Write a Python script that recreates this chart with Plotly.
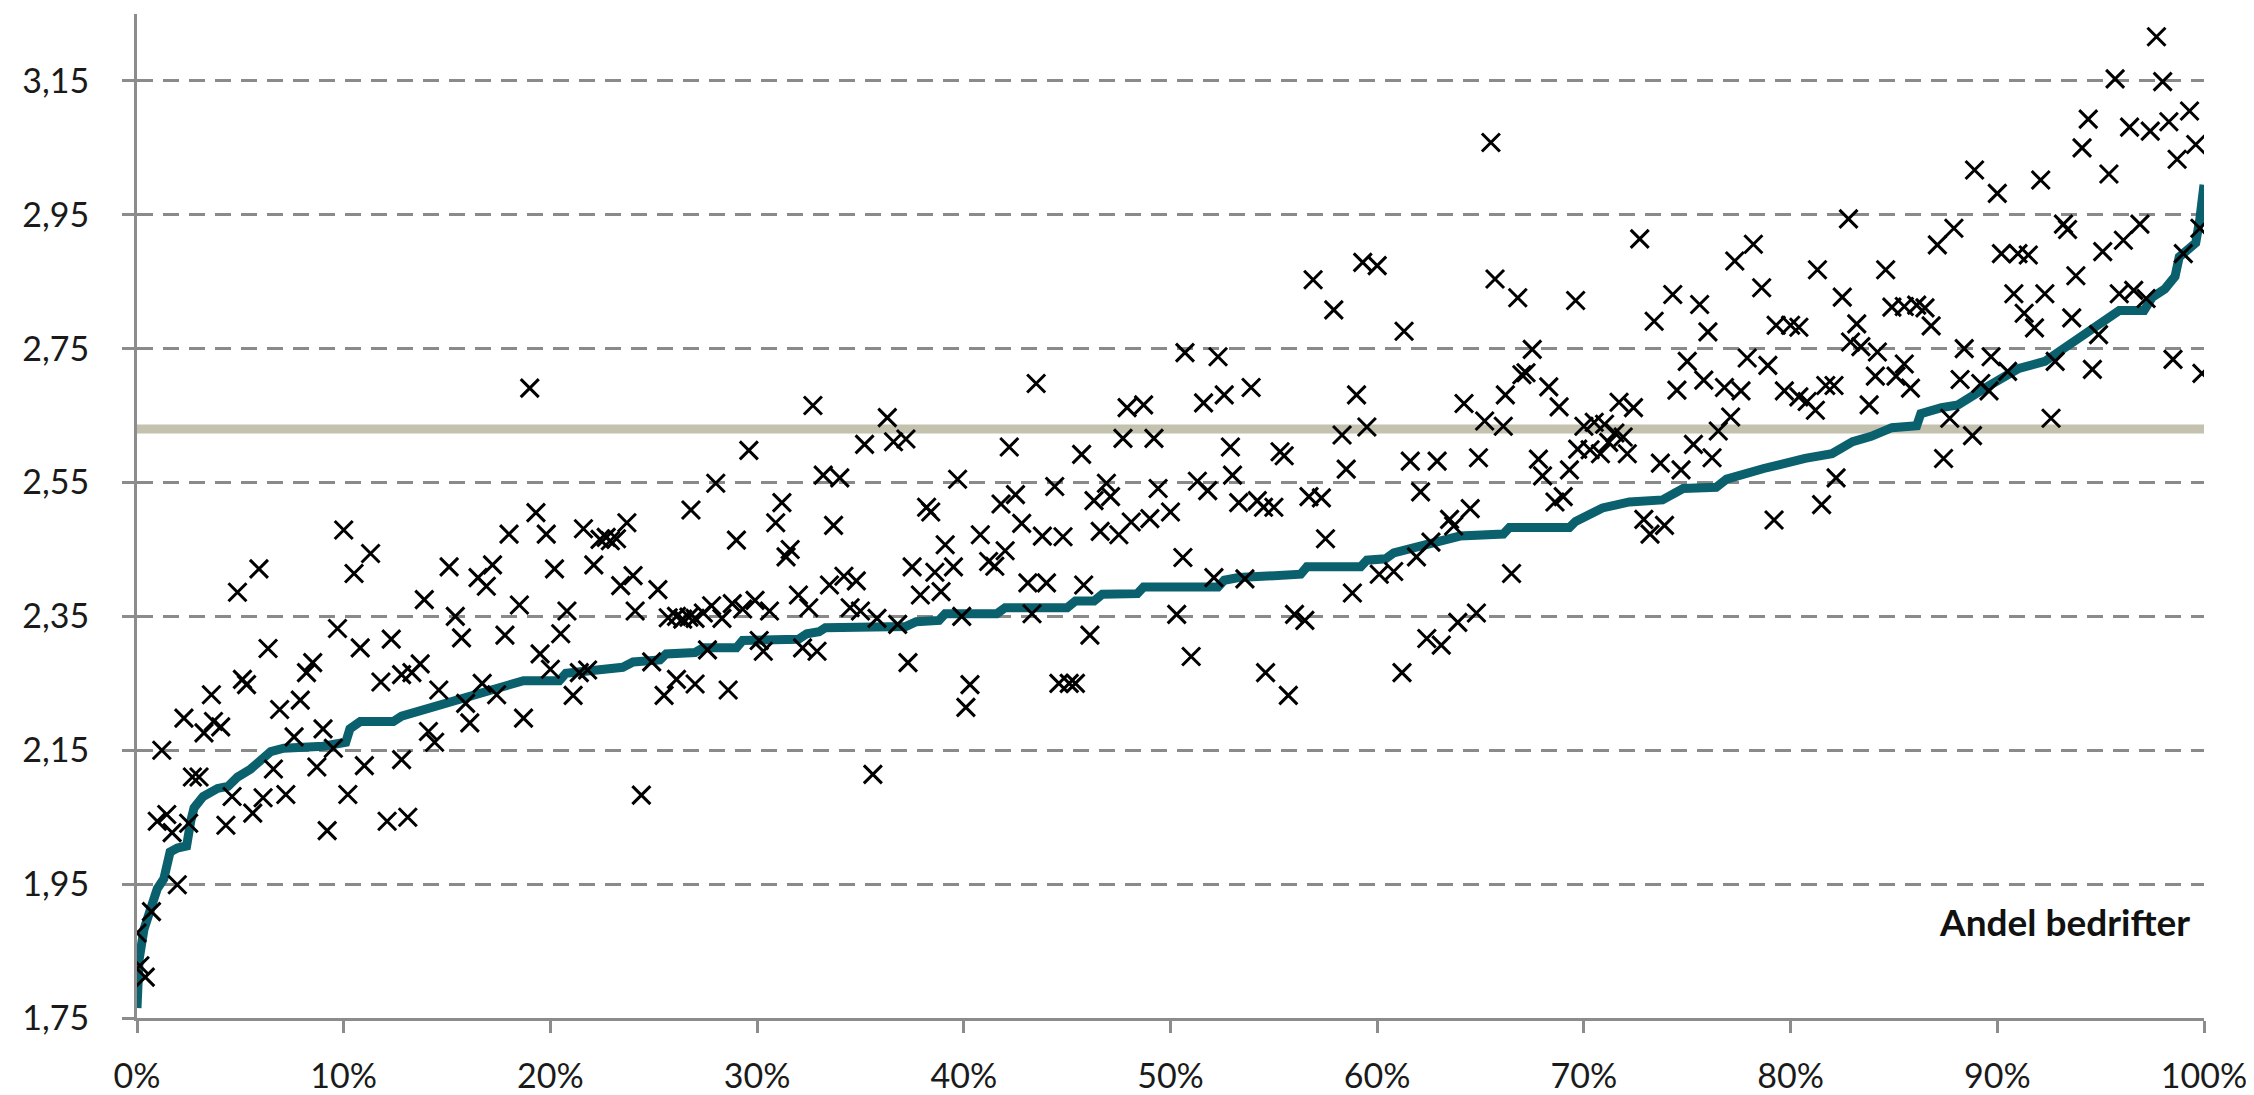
import plotly.graph_objects as go

# andel bedrifter (0-1) og verdi for hver bedrift (kryss)
firm_share = [
    0.000, 0.0014, 0.004, 0.007, 0.0098, 0.0144, 0.012, 0.017, 0.0195, 0.025,
    0.0227, 0.0268, 0.030, 0.0324, 0.036, 0.037, 0.0405, 0.043, 0.046, 0.0486,
    0.051, 0.053, 0.056, 0.059, 0.061, 0.0634, 0.066, 0.069, 0.072, 0.076,
    0.079, 0.082, 0.085, 0.087, 0.090, 0.092, 0.095, 0.097, 0.100, 0.102,
    0.105, 0.108, 0.110, 0.113, 0.118, 0.121, 0.123, 0.128, 0.128, 0.131,
    0.133, 0.137, 0.139, 0.141, 0.144, 0.146, 0.151, 0.154, 0.157, 0.159,
    0.161, 0.165, 0.169, 0.167, 0.172, 0.174, 0.178, 0.180, 0.185, 0.187,
    0.193, 0.195, 0.198, 0.200, 0.202, 0.190,
    # 20-40 %
    0.327, 0.296, 0.363, 0.352, 0.366, 0.372, 0.280, 0.332, 0.340, 0.397,
    0.268, 0.312, 0.309, 0.382, 0.384, 0.337, 0.290, 0.316, 0.314, 0.391,
    0.216, 0.224, 0.227, 0.229, 0.232, 0.237, 0.221, 0.234, 0.240, 0.252,
    0.208, 0.241, 0.205, 0.211, 0.214, 0.218, 0.249, 0.255, 0.261, 0.270,
    0.286, 0.257, 0.261, 0.264, 0.267, 0.270, 0.274, 0.278, 0.283, 0.288,
    0.293, 0.299, 0.306, 0.276, 0.301, 0.303, 0.320, 0.325, 0.335, 0.342,
    0.348, 0.345, 0.350, 0.358, 0.368, 0.322, 0.329, 0.373, 0.375, 0.379,
    0.386, 0.389, 0.395, 0.399, 0.403, 0.401, 0.244, 0.356,
    # 40-60 %
    0.569, 0.579, 0.593, 0.600, 0.507, 0.523, 0.435, 0.479, 0.487, 0.516,
    0.526, 0.539, 0.590, 0.595, 0.583, 0.585, 0.422, 0.457, 0.477, 0.492,
    0.529, 0.553, 0.555, 0.530, 0.418, 0.425, 0.444, 0.463, 0.469, 0.471,
    0.494, 0.513, 0.518, 0.533, 0.542, 0.545, 0.550, 0.567, 0.573, 0.408,
    0.428, 0.438, 0.448, 0.466, 0.475, 0.481, 0.490, 0.500, 0.575, 0.412,
    0.415, 0.420, 0.431, 0.440, 0.458, 0.506, 0.521, 0.536, 0.588, 0.601,
    0.433, 0.461, 0.503, 0.560, 0.565, 0.510, 0.546, 0.557, 0.446, 0.451,
    0.454,
    # 60-80 %
    0.655, 0.727, 0.657, 0.668, 0.696, 0.613, 0.734, 0.743, 0.756, 0.760,
    0.773, 0.782, 0.786, 0.793, 0.800, 0.804, 0.675, 0.672, 0.670, 0.683,
    0.688, 0.642, 0.652, 0.661, 0.662, 0.750, 0.745, 0.758, 0.768, 0.776,
    0.779, 0.789, 0.797, 0.804, 0.771, 0.765, 0.717, 0.724, 0.700, 0.705,
    0.710, 0.715, 0.719, 0.697, 0.703, 0.708, 0.712, 0.721, 0.616, 0.629,
    0.649, 0.678, 0.680, 0.693, 0.686, 0.690, 0.737, 0.747, 0.753, 0.762,
    0.621, 0.635, 0.637, 0.645, 0.626, 0.619, 0.608, 0.665, 0.729, 0.732,
    0.739, 0.792, 0.612, 0.624, 0.631, 0.639, 0.648,
    # 80-100 %
    0.977, 0.957, 0.980, 0.944, 0.964, 0.974, 0.983, 0.993, 0.941, 0.954,
    0.987, 0.996, 0.889, 0.900, 0.921, 0.828, 0.871, 0.879, 0.932, 0.934,
    0.969, 0.961, 0.951, 0.998, 0.990, 0.813, 0.846, 0.902, 0.910, 0.915,
    0.825, 0.849, 0.855, 0.861, 0.865, 0.868, 0.938, 0.908, 0.923, 0.913,
    0.918, 0.936, 0.959, 0.966, 0.972, 0.832, 0.829, 0.834, 0.842, 0.884,
    0.897, 0.905, 0.949, 0.928, 0.946, 0.985, 0.999, 0.808, 0.812, 0.817,
    0.821, 0.838, 0.841, 0.851, 0.855, 0.858, 0.882, 0.892, 0.896, 0.877,
    0.888, 0.874, 0.926, 0.822, 0.815,
]
firm_value = [
    1.877, 1.828, 1.811, 1.909, 2.044, 2.054, 2.150, 2.027, 1.949, 2.041,
    2.198, 2.110, 2.110, 2.176, 2.233, 2.193, 2.185, 2.038, 2.081, 2.386,
    2.256, 2.248, 2.056, 2.421, 2.079, 2.302, 2.122, 2.211, 2.084, 2.170,
    2.225, 2.266, 2.281, 2.125, 2.182, 2.030, 2.153, 2.332, 2.479, 2.084,
    2.414, 2.303, 2.127, 2.444, 2.252, 2.044, 2.316, 2.263, 2.136, 2.050,
    2.266, 2.279, 2.375, 2.178, 2.162, 2.240, 2.424, 2.350, 2.318, 2.220,
    2.191, 2.408, 2.395, 2.250, 2.427, 2.233, 2.322, 2.473, 2.367, 2.198,
    2.505, 2.294, 2.473, 2.271, 2.421, 2.691,
    # 20-40 %
    2.665, 2.598, 2.647, 2.607, 2.611, 2.615, 2.549, 2.561, 2.557, 2.555,
    2.509, 2.520, 2.490, 2.513, 2.506, 2.486, 2.464, 2.450, 2.439, 2.457,
    2.481, 2.465, 2.468, 2.463, 2.466, 2.490, 2.427, 2.396, 2.411, 2.390,
    2.358, 2.358, 2.324, 2.232, 2.266, 2.270, 2.282, 2.232, 2.256, 2.249,
    2.240, 2.348, 2.350, 2.346, 2.349, 2.347, 2.355, 2.366, 2.347, 2.369,
    2.361, 2.374, 2.358, 2.300, 2.314, 2.298, 2.382, 2.363, 2.397, 2.410,
    2.403, 2.363, 2.358, 2.347, 2.338, 2.303, 2.298, 2.281, 2.424, 2.382,
    2.416, 2.387, 2.424, 2.350, 2.248, 2.214, 2.083, 2.114,
    # 40-60 %
    2.853, 2.808, 2.879, 2.874, 2.744, 2.738, 2.698, 2.662, 2.666, 2.669,
    2.681, 2.692, 2.681, 2.633, 2.621, 2.570, 2.603, 2.592, 2.616, 2.616,
    2.603, 2.596, 2.590, 2.561, 2.518, 2.532, 2.544, 2.523, 2.549, 2.529,
    2.541, 2.552, 2.538, 2.520, 2.523, 2.513, 2.513, 2.529, 2.527, 2.472,
    2.489, 2.470, 2.469, 2.477, 2.472, 2.491, 2.496, 2.506, 2.466, 2.432,
    2.425, 2.448, 2.400, 2.400, 2.397, 2.438, 2.408, 2.406, 2.385, 2.413,
    2.354, 2.322, 2.353, 2.353, 2.344, 2.290, 2.266, 2.232, 2.250, 2.250,
    2.250,
    # 60-80 %
    3.058, 2.914, 2.854, 2.826, 2.822, 2.776, 2.791, 2.831, 2.816, 2.775,
    2.881, 2.906, 2.841, 2.785, 2.785, 2.782, 2.749, 2.714, 2.711, 2.693,
    2.663, 2.668, 2.642, 2.634, 2.681, 2.731, 2.688, 2.703, 2.692, 2.687,
    2.736, 2.725, 2.687, 2.678, 2.648, 2.627, 2.670, 2.662, 2.634, 2.640,
    2.637, 2.624, 2.618, 2.600, 2.599, 2.593, 2.610, 2.593, 2.582, 2.582,
    2.587, 2.585, 2.560, 2.569, 2.521, 2.529, 2.579, 2.569, 2.607, 2.587,
    2.536, 2.495, 2.485, 2.511, 2.461, 2.439, 2.417, 2.414, 2.495, 2.473,
    2.486, 2.494, 2.266, 2.317, 2.307, 2.341, 2.355,
    # 80-100 %
    3.216, 3.153, 3.149, 3.093, 3.081, 3.075, 3.089, 3.105, 3.050, 3.011,
    3.033, 3.055, 3.017, 2.982, 3.002, 2.944, 2.905, 2.930, 2.936, 2.928,
    2.936, 2.912, 2.895, 2.930, 2.892, 2.868, 2.868, 2.892, 2.892, 2.890,
    2.827, 2.812, 2.813, 2.815, 2.811, 2.784, 2.859, 2.832, 2.832, 2.803,
    2.781, 2.796, 2.832, 2.837, 2.825, 2.787, 2.760, 2.753, 2.745, 2.750,
    2.738, 2.716, 2.771, 2.731, 2.719, 2.734, 2.713, 2.671, 2.658, 2.695,
    2.695, 2.666, 2.709, 2.709, 2.727, 2.691, 2.704, 2.698, 2.687, 2.646,
    2.620, 2.586, 2.646, 2.557, 2.517,
]

# sortert fordeling (teal linje)
curve_share = [
    0.0, 0.001, 0.0034, 0.0066, 0.0098, 0.013, 0.016, 0.0195, 0.024, 0.026,
    0.0276, 0.032, 0.039, 0.044, 0.0486, 0.055, 0.0615, 0.0647, 0.071, 0.090,
    0.101, 0.103, 0.108, 0.124, 0.128, 0.136, 0.147, 0.152, 0.165, 0.176,
    0.184, 0.187, 0.2043, 0.2075, 0.235, 0.240, 0.253, 0.256, 0.270, 0.274,
    0.290, 0.293, 0.320, 0.324, 0.330, 0.333, 0.372, 0.377, 0.388, 0.391,
    0.416, 0.420, 0.450, 0.454, 0.463, 0.467, 0.484, 0.487, 0.523, 0.526,
    0.533, 0.563, 0.566, 0.592, 0.595, 0.604, 0.608, 0.616, 0.624, 0.633,
    0.640, 0.661, 0.664, 0.693, 0.696, 0.709, 0.722, 0.738, 0.748, 0.764,
    0.769, 0.787, 0.798, 0.807, 0.820, 0.830, 0.839, 0.849, 0.861, 0.863,
    0.873, 0.881, 0.894, 0.910, 0.923, 0.934, 0.946, 0.959, 0.971, 0.975,
    0.981, 0.986, 0.988, 0.996, 0.998, 0.999, 1.0,
]
curve_value = [
    1.765, 1.837, 1.883, 1.917, 1.943, 1.958, 1.998, 2.004, 2.007, 2.044,
    2.064, 2.081, 2.093, 2.096, 2.110, 2.122, 2.139, 2.148, 2.153, 2.156,
    2.162, 2.182, 2.193, 2.193, 2.201, 2.208, 2.217, 2.224, 2.234, 2.244,
    2.251, 2.254, 2.254, 2.265, 2.274, 2.282, 2.285, 2.294, 2.296, 2.303,
    2.303, 2.314, 2.316, 2.324, 2.327, 2.333, 2.335, 2.342, 2.344, 2.354,
    2.354, 2.363, 2.363, 2.373, 2.373, 2.383, 2.384, 2.394, 2.394, 2.404,
    2.408, 2.413, 2.424, 2.424, 2.434, 2.436, 2.445, 2.451, 2.458, 2.464,
    2.470, 2.473, 2.483, 2.483, 2.492, 2.512, 2.521, 2.524, 2.541, 2.543,
    2.555, 2.571, 2.580, 2.586, 2.593, 2.611, 2.619, 2.632, 2.635, 2.653,
    2.662, 2.666, 2.691, 2.720, 2.731, 2.755, 2.782, 2.807, 2.807, 2.827,
    2.839, 2.858, 2.887, 2.908, 2.944, 2.988, 2.995,
]

benchmark = 2.63
x_ticks = [0, 0.1, 0.2, 0.3, 0.4, 0.5, 0.6, 0.7, 0.8, 0.9, 1.0]
y_ticks = [1.75, 1.95, 2.15, 2.35, 2.55, 2.75, 2.95, 3.15]

fig = go.Figure()

fig.add_trace(go.Scatter(
    x=[0, 1], y=[benchmark, benchmark], mode='lines',
    line=dict(color='#C4C2AF', width=9), hoverinfo='skip'
))

fig.add_trace(go.Scatter(
    x=curve_share, y=curve_value, mode='lines',
    line=dict(color='#0B606E', width=9), hoverinfo='skip'
))

fig.add_trace(go.Scatter(
    x=firm_share, y=firm_value, mode='markers',
    marker=dict(symbol='x-thin', size=18, color='black',
                line=dict(color='black', width=3)),
    hoverinfo='skip'
))

fig.add_annotation(
    x=0.994, y=1.894, xref='x', yref='y', text='<b>Andel bedrifter</b>',
    showarrow=False, xanchor='right', yanchor='middle',
    font=dict(family='Lato', size=37, color='#111111')
)

# siden har 8px body-marg, så figuren er 8px mindre og marginene justert
fig.update_layout(
    width=2246, height=1087,
    margin=dict(l=129, r=50, t=6, b=77),
    plot_bgcolor='white', paper_bgcolor='white',
    showlegend=False, separators=', ',
    font=dict(family='Lato', size=34, color='#1a1a1a'),
)
fig.update_xaxes(
    range=[0, 1], tickvals=x_ticks, tickformat='.0%',
    showline=True, linecolor='#8C8C8C', linewidth=3,
    ticks='outside', ticklen=12, tickwidth=3, tickcolor='#8C8C8C',
    showgrid=False, zeroline=False, ticklabelstandoff=14,
    automargin=False,
)
fig.update_yaxes(
    range=[1.75, 3.25], tickvals=y_ticks, tickformat='.2f',
    showline=True, linecolor='#8C8C8C', linewidth=3,
    ticks='outside', ticklen=12, tickwidth=3, tickcolor='#8C8C8C',
    showgrid=True, gridcolor='#8A8A8A', gridwidth=3, griddash='16px,10px',
    zeroline=False, ticklabelstandoff=26, automargin=False,
)

fig.write_html("out.html")
